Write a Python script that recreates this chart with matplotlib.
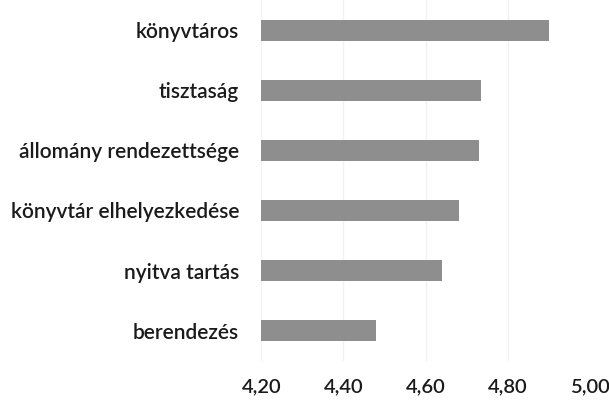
import matplotlib
matplotlib.use("Agg")
import matplotlib.pyplot as plt
from matplotlib.ticker import FuncFormatter

# categories from bottom to top
categories = ['berendezés', 'nyitva tartás', 'könyvtár elhelyezkedése',
              'állomány rendezettsége', 'tisztaság', 'könyvtáros']
values = [4.48, 4.64, 4.68, 4.73, 4.735, 4.90]
xticks = [4.20, 4.40, 4.60, 4.80, 5.00]

plt.rcParams['font.family'] = ['Lato', 'DejaVu Sans']

fig = plt.figure(figsize=(6.09, 4.03), dpi=100)
ax = fig.add_axes([0.429, 0.105, 0.54, 0.895])

ax.barh(range(len(categories)), [v - 4.20 for v in values], left=4.20,
        height=0.35, color='#8e8e8e', zorder=2)

ax.set_xlim(4.20, 5.00)
ax.set_ylim(-0.5, len(categories) - 0.5)
ax.set_xticks(xticks)
ax.xaxis.set_major_formatter(FuncFormatter(lambda v, p: ('%.2f' % v).replace('.', ',')))
ax.set_yticks(range(len(categories)))
ax.set_yticklabels(categories)

ax.grid(axis='x', color='#f2f2f2', linewidth=1, zorder=0)
for s in ax.spines.values():
    s.set_visible(False)
ax.tick_params(length=0, colors='#1a1a1a')
ax.tick_params(axis='y', pad=16, labelsize=15)
ax.tick_params(axis='x', pad=13, labelsize=14.5)
for t in ax.get_yticklabels() + ax.get_xticklabels():
    t.set_fontweight('semibold')

fig.savefig('out.png', dpi=100, facecolor='white')
